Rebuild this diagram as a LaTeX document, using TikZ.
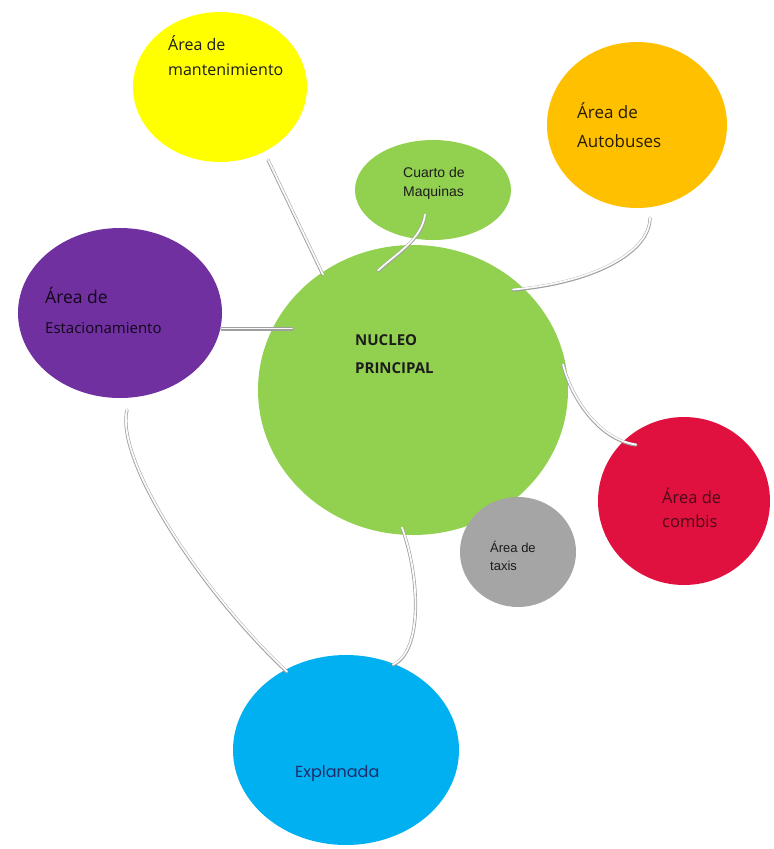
\documentclass[tikz,border=0pt]{standalone}
\usepackage{fontspec}
\setmainfont{Open Sans}
\newfontfamily\arialfont{Liberation Sans}
\newfontfamily\geofont{Poppins}
\usetikzlibrary{shapes.geometric,calc}

\definecolor{cYellow}{HTML}{FFFF00}
\definecolor{cOrange}{HTML}{FFC000}
\definecolor{cGreen}{HTML}{92D050}
\definecolor{cPurple}{HTML}{7030A0}
\definecolor{cRed}{HTML}{E0103F}
\definecolor{cGrey}{HTML}{A5A5A5}
\definecolor{cBlue}{HTML}{00B0F0}
\definecolor{txtDark}{HTML}{1C1C1C}
\definecolor{txtNavy}{HTML}{1F2D6B}
\definecolor{txtMaroon}{HTML}{4A0A18}

\tikzset{
  bubble/.style={ellipse, inner sep=0pt, draw=none},
  label/.style={anchor=base west, inner sep=0pt, text=txtDark},
  % white tube with a grey rim, slightly heavier below
  tube/.style={draw=gray!75, line width=3.2pt, line cap=round,
    postaction={draw=white!96!gray, line width=1.8pt, line cap=round, transform canvas={yshift=0.5pt}}},
}

\begin{document}
\begin{tikzpicture}[x=1pt, y=-1pt]
  \useasboundingbox (0,0) rectangle (774,849);

  % bubbles
  \node[bubble, fill=cYellow, minimum width=174pt, minimum height=150pt] (mant) at (220,87) {};
  \node[bubble, fill=cOrange, minimum width=180pt, minimum height=166pt] (bus) at (637,125) {};
  \node[bubble, fill=cGreen, minimum width=156pt, minimum height=100pt] (maq) at (433,190) {};
  \node[bubble, fill=cPurple, minimum width=204pt, minimum height=170pt] (est) at (120,313) {};
  \node[bubble, fill=cGreen, minimum width=310pt, minimum height=290pt] (core) at (413,390) {};
  \node[bubble, fill=cRed, minimum width=172pt, minimum height=168pt] (combi) at (684,501) {};
  \node[bubble, fill=cGrey, minimum width=116pt, minimum height=110pt] (taxi) at (518,552) {};
  \node[bubble, fill=cBlue, minimum width=226pt, minimum height=190pt] (expl) at (346,750) {};

  % connectors
  \draw[tube] ($(mant.center)+(48,73)$) -- ($(core.center)+(-90,-115)$);
  \draw[tube] ($(maq.center)+(-8,25)$) .. controls ($(maq.center)+(-11,50)$) and ($(core.center)+(-18,-135)$) .. ($(core.center)+(-35,-119)$);
  \draw[tube] ($(bus.center)+(13,93)$) .. controls ($(bus.center)+(13,125)$) and ($(core.center)+(187,-108)$) .. ($(core.center)+(100,-100)$);
  \draw[tube] ($(est.center)+(102,16)$) -- ($(core.center)+(-121,-61)$);
  \draw[tube] ($(core.center)+(150,-25)$) .. controls ($(core.center)+(159,10)$) and ($(combi.center)+(-84,-61)$) .. ($(combi.center)+(-48,-56)$);
  \draw[tube] ($(core.center)+(-11,138)$) .. controls ($(core.center)+(5,180)$) and ($(expl.center)+(79,-100)$) .. ($(expl.center)+(47,-85)$);
  \draw[tube] ($(est.center)+(7,97)$) .. controls ($(est.center)+(-5,147)$) and ($(expl.center)+(-146,-160)$) .. ($(expl.center)+(-59,-78)$);

  % labels
  \node[label, font=\fontsize{16}{19}\selectfont] (mantA) at (168,50) {Área de};
  \node[label, font=\fontsize{16}{19}\selectfont] (mantB) at (168,75) {mantenimiento};
  \node[label, font=\fontsize{17}{20}\selectfont, text=black!85!cOrange] (busA) at (577,118) {Área de};
  \node[label, font=\fontsize{17}{20}\selectfont, text=black!85!cOrange] (busB) at (577,147) {Autobuses};
  \node[label, font=\arialfont\fontsize{14}{17}\selectfont] (maqA) at (403,177) {Cuarto de};
  \node[label, font=\arialfont\fontsize{14}{17}\selectfont] (maqB) at (403,196) {Maquinas};
  \node[label, font=\fontsize{17.5}{20}\selectfont, text=black!85!cPurple] (estA) at (45,303) {Área de};
  \node[label, font=\fontsize{15}{18}\selectfont, text=black!85!cPurple] (estB) at (45,333) {Estacionamiento};
  \node[label, font=\bfseries\fontsize{15}{18}\selectfont] (coreA) at (355,345) {NUCLEO};
  \node[label, font=\bfseries\fontsize{15}{18}\selectfont] (coreB) at (355,373) {PRINCIPAL};
  \node[label, font=\fontsize{16.5}{19}\selectfont, text=txtMaroon] (combiA) at (662,503) {Área de};
  \node[label, font=\fontsize{16.5}{19}\selectfont, text=txtMaroon] (combiB) at (662,527) {combis};
  \node[label, font=\arialfont\fontsize{13}{15}\selectfont] (taxiA) at (490,552) {Área de};
  \node[label, font=\arialfont\fontsize{13}{15}\selectfont] (taxiB) at (490,570) {taxis};
  \node[label, font=\geofont\fontsize{16}{19}\selectfont, text=txtNavy] (explA) at (295,777) {Explanada};
\end{tikzpicture}
\end{document}
